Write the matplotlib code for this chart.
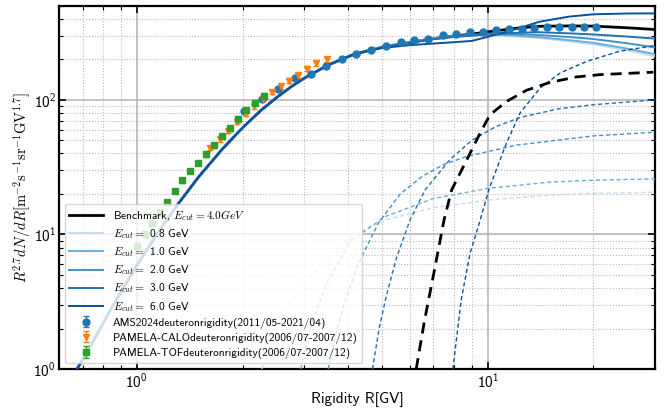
import matplotlib
matplotlib.use("Agg")
import matplotlib.pyplot as plt

plt.rcParams['font.family'] = ['cmss10', 'DejaVu Sans']
plt.rcParams['mathtext.fontset'] = 'cm'
plt.rcParams['axes.formatter.use_mathtext'] = True

# ---------------- data ----------------
ecut_values = [0.8, 1.0, 2.0, 3.0, 6.0]
ecut_colors = ['#c6dbef', '#6baed6', '#4292c6', '#2171b5', '#08519c']

# shared low-rigidity part of all model curves
R_low = [0.675, 0.75, 0.85, 1.0, 1.15, 1.3, 1.5, 1.75, 2.0, 2.25, 2.5, 2.75, 3.0, 3.5, 4.1, 4.5]
v_low = [1.0, 1.6, 2.9, 5.9, 10.4, 16.4, 26.8, 43.0, 62.0, 83.0, 104.0, 125.0, 145.0, 181.0, 215.0, 230.0]

# high-rigidity parts
R_high = [5.0, 6.0, 7.0, 8.0, 9.0, 10.0, 12.0, 14.0, 17.0, 20.0, 25.0, 30.0]
bench_high = [246, 267, 285, 298, 308, 320, 340, 352, 354, 353, 343, 333]
e08_high = [248, 270, 286, 296, 300, 302, 296, 288, 272, 258, 233, 210]
e10_high = [248, 270, 287, 297, 302, 305, 300, 292, 278, 265, 240, 218]
e20_high = [247, 269, 286, 297, 304, 310, 308, 303, 293, 283, 263, 245]
e30_high = [246, 266, 282, 293, 300, 306, 315, 318, 312, 306, 295, 285]
e60_high = [243, 255, 262, 268, 274, 294, 335, 380, 415, 432, 438, 439]

# dashed components
R_d08 = [2.27, 2.45, 2.6, 3.0, 3.47, 4.23, 5.1, 7.0, 10.0, 15.0, 20.0, 30.0]
v_d08 = [1.0, 1.8, 2.5, 4.3, 6.5, 10.0, 12.8, 15.8, 18.0, 19.6, 20.2, 20.6]
R_d10 = [2.93, 3.05, 3.2, 3.5, 4.07, 5.1, 7.0, 10.0, 15.0, 20.0, 30.0]
v_d10 = [1.0, 1.6, 2.5, 4.5, 9.0, 13.6, 18.5, 22.0, 24.5, 25.3, 25.9]
R_d20 = [3.51, 3.7, 3.95, 4.28, 4.88, 5.63, 6.5, 7.47, 8.71, 12.0, 20.0, 30.0]
v_d20 = [1.0, 1.9, 3.4, 6.1, 12.2, 20.0, 27.0, 33.0, 38.0, 46.0, 54.0, 57.5]
R_d30 = [4.69, 4.9, 5.15, 5.5, 6.0, 6.63, 7.8, 9.0, 10.5, 12.36, 16.0, 20.0, 30.0]
v_d30 = [1.0, 2.0, 3.6, 6.8, 12.8, 21.5, 36.0, 50.0, 63.0, 74.0, 86.0, 92.0, 100.0]
R_bench_d = [6.25, 6.6, 7.0, 7.5, 7.89, 8.71, 9.51, 10.15, 11.33, 12.9, 15.06, 17.9, 20.9, 29.6]
v_bench_d = [1.0, 2.3, 5.0, 12.8, 21.5, 35.9, 56.8, 77.7, 97.6, 117.9, 135.0, 148.0, 154.0, 160.5]
R_d60 = [7.95, 8.4, 8.9, 9.51, 10.1, 11.3, 12.36, 14.1, 16.1, 19.2, 23.8, 30.0]
v_d60 = [1.0, 3.3, 7.26, 12.8, 22.1, 47.8, 80.0, 122.8, 158.8, 193.8, 230.0, 253.6]

# experimental data
ams_R = [2.02, 2.268, 2.518, 2.822, 3.129, 3.459, 3.834, 4.212, 4.638, 5.129, 5.648, 6.176,
         6.77, 7.44, 8.12, 8.90, 9.70, 10.56, 11.5, 12.5, 13.55, 14.73, 16.0, 17.36, 18.78, 20.32]
ams_v = [83.2, 101.7, 121.4, 144.1, 156.2, 177.9, 199.6, 220.0, 235.7, 252.5, 268.5, 276.4,
         281.2, 304.8, 310.0, 318.6, 320.8, 328.1, 333.8, 338.0, 341.4, 347.3, 347.3, 349.7, 349.7, 349.7]
calo_R = [1.62, 1.72, 1.82, 1.93, 2.04, 2.16, 2.28, 2.42, 2.57, 2.72, 2.88, 3.05, 3.24, 3.48]
calo_v = [44.0, 51.0, 59.0, 68.5, 78.5, 89.6, 101.7, 114.7, 126.3, 139.2, 151.7, 170.2, 186.4, 199.5]
tof_R = [1.0, 1.052, 1.101, 1.16, 1.218, 1.283, 1.347, 1.419, 1.492, 1.573, 1.658, 1.747,
         1.842, 1.941, 2.05, 2.17, 2.298]
tof_v = [8.2, 10.05, 12.1, 14.6, 17.4, 21.1, 25.2, 29.6, 33.9, 39.4, 45.9, 53.6,
         61.4, 72.6, 83.7, 95.5, 107.7]

labels_data = ['AMS2024deuteronrigidity(2011/05-2021/04)',
               'PAMELA-CALOdeuteronrigidity(2006/07-2007/12)',
               'PAMELA-TOFdeuteronrigidity(2006/07-2007/12)']

# ---------------- figure ----------------
fig = plt.figure(figsize=(6.71, 4.11), dpi=100)
ax = fig.add_axes([0.088, 0.102, 0.8886, 0.884])

ax.plot(R_low + R_high, v_low + bench_high, color='black', lw=2.0,
        label=r'Benchmark, $E_{cut}=4.0GeV$', zorder=3)
highs = [e08_high, e10_high, e20_high, e30_high, e60_high]
for e, c, h in zip(ecut_values, ecut_colors, highs):
    ax.plot(R_low + R_high, v_low + h, color=c, lw=1.4,
            label=r'$E_{cut}=$' + f' {e} GeV', zorder=3)

dashed = [(R_d08, v_d08, ecut_colors[0]), (R_d10, v_d10, ecut_colors[1]),
          (R_d20, v_d20, ecut_colors[2]), (R_d30, v_d30, ecut_colors[3]),
          (R_d60, v_d60, ecut_colors[4])]
for r, v, c in dashed:
    ax.plot(r, v, color=c, lw=1.0, ls=(0, (3, 2)), zorder=3)
ax.plot(R_bench_d, v_bench_d, color='black', lw=2.0, ls=(0, (4, 2.5)), zorder=3)

def err(v, f):
    return [x * f for x in v]

ax.errorbar(ams_R, ams_v, yerr=err(ams_v, 0.02), fmt='o', color='#1f77b4', ms=5,
            capsize=2, elinewidth=1, label=labels_data[0], zorder=4)
ax.errorbar(calo_R, calo_v, yerr=err(calo_v, 0.04), fmt='v', color='#ff7f0e', ms=5,
            capsize=2, elinewidth=1, label=labels_data[1], zorder=4)
ax.errorbar(tof_R, tof_v, yerr=err(tof_v, 0.04), fmt='s', color='#2ca02c', ms=5,
            capsize=2, elinewidth=1, label=labels_data[2], zorder=4)

ax.set_xscale('log')
ax.set_yscale('log')
ax.set_xlim(0.6, 30)
ax.set_ylim(1, 500)

ax.grid(True, which='major', color='#b8b8b8', lw=1.2, ls='-')
ax.grid(True, which='minor', color='#b8b8b8', lw=0.8, ls=':')
ax.set_axisbelow(True)
for s in ax.spines.values():
    s.set_linewidth(1.6)
ax.tick_params(which='both', direction='in', top=True, right=True)
ax.tick_params(which='major', length=5, width=1.2, labelsize=11, pad=2)
ax.tick_params(which='minor', length=3, width=0.8)

ax.set_xlabel('Rigidity R[GV]', fontsize=11, labelpad=1)
ax.set_ylabel(r'$R^{2.7}dN/dR[\mathrm{m}^{-2}\mathrm{s}^{-1}\mathrm{sr}^{-1}\mathrm{GV}^{1.7}]$',
              fontsize=10.5, labelpad=0.5)

leg = ax.legend(loc='lower left', fontsize=8.2, framealpha=0.8, handlelength=3.0,
                labelspacing=0.36, borderaxespad=0.5, handletextpad=0.8)
leg.get_frame().set_edgecolor('#cccccc')

fig.savefig('out.png', dpi=100)
